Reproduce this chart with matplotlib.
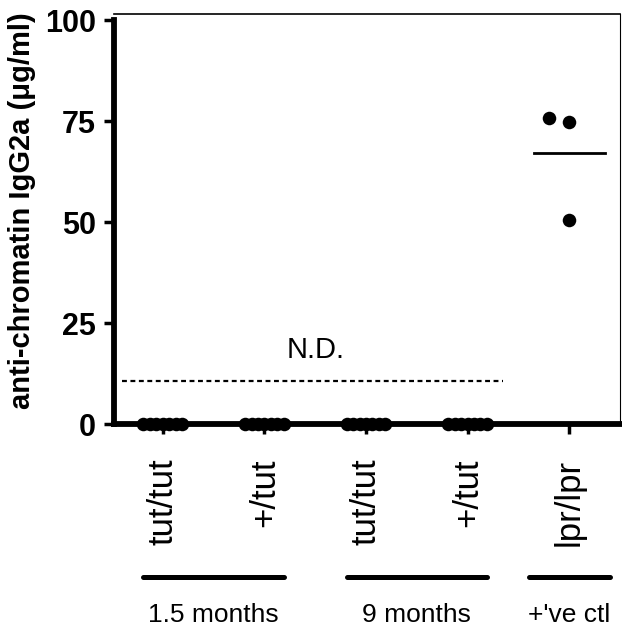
import matplotlib
matplotlib.use('Agg')
import matplotlib.pyplot as plt
import matplotlib.transforms as mtransforms
import numpy as np

plt.rcParams['font.family'] = ['Liberation Sans', 'DejaVu Sans']

# data
genotypes = ['tut/tut', '+/tut', 'tut/tut', '+/tut', 'lpr/lpr']
values = [
    [0, 0, 0, 0, 0, 0, 0],
    [0, 0, 0, 0, 0, 0, 0],
    [0, 0, 0, 0, 0, 0, 0],
    [0, 0, 0, 0, 0, 0, 0],
    [75.7, 74.8, 50.5],
]
group_names = ['1.5 months', '9 months', "+'ve ctl"]
group_members = [[1, 2], [3, 4], [5]]
detection_limit = 10.6
yticks = [0, 25, 50, 75, 100]


def swarm_offsets(vals, tol=3.0, max_step=0.2, spread=0.38):
    # GraphPad-like column scatter: first point centred, others alternate left/right
    vals = np.asarray(vals, dtype=float)
    offs = np.zeros(len(vals))
    order = np.argsort(vals)
    clusters = []
    for i in order:
        if clusters and abs(vals[i] - vals[clusters[-1][-1]]) < tol:
            clusters[-1].append(i)
        else:
            clusters.append([i])
    for cl in clusters:
        n = len(cl)
        if n == 1:
            continue
        step = min(max_step, spread / (n - 1))
        for k, idx in enumerate(cl):
            m = (k + 1) // 2
            offs[idx] = (-m if k % 2 == 1 else m) * step
    return offs


fig = plt.figure(figsize=(6.22, 6.33), dpi=100)
ax = fig.add_axes([114 / 622, 1 - 424 / 633, 506 / 622, 410 / 633])

for i, vals in enumerate(values):
    x = i + 1 + swarm_offsets(vals)
    ax.scatter(x, vals, s=95, color='black', zorder=5, clip_on=False, linewidths=0)
    if np.mean(vals) > 0:
        ax.plot([i + 1 - 0.35, i + 1 + 0.35], [np.mean(vals)] * 2, color='black', lw=2.0)

ax.plot([0.6, 4.35], [detection_limit, detection_limit], color='black', lw=1.6,
        linestyle=(0, (2.2, 1.6)))
ax.text(2.5, detection_limit + 7.7, 'N.D.', fontsize=21, ha='center', va='center')

ax.set_xlim(0.52, 5.5)
ax.set_ylim(0, 101.5)
ax.set_yticks(yticks)
ax.set_yticklabels([str(v) for v in yticks], fontsize=22, fontweight='bold')
ax.set_xticks(range(1, 6))
ax.set_xticklabels(genotypes, rotation=90, fontsize=25, va='top')

for side in ['left', 'bottom']:
    ax.spines[side].set_linewidth(4.2)
ax.spines['left'].set_bounds(0, 100)
ax.spines['top'].set_linewidth(1.2)
ax.spines['right'].set_linewidth(0.8)
ax.tick_params(axis='y', length=7, width=2.5, pad=6)
ax.tick_params(axis='x', length=7, width=2.5, pad=18)

ax.set_ylabel('anti-chromatin IgG2a (\u03bcg/ml)', fontsize=21, fontweight='bold')
ax.yaxis.set_label_coords(-0.155, 0.52)

trans = mtransforms.blended_transform_factory(ax.transData, ax.transAxes)
for name, members in zip(group_names, group_members):
    center = (min(members) + max(members)) / 2
    half = 0.69 if len(members) > 1 else 0.4
    ax.plot([center - half, center + half], [-0.373, -0.373], color='black', lw=3.6,
            transform=trans, clip_on=False, solid_capstyle='round')
    ax.text(center, -0.465, name, fontsize=19, ha='center', va='center', transform=trans)

fig.savefig('out.png', dpi=100)
